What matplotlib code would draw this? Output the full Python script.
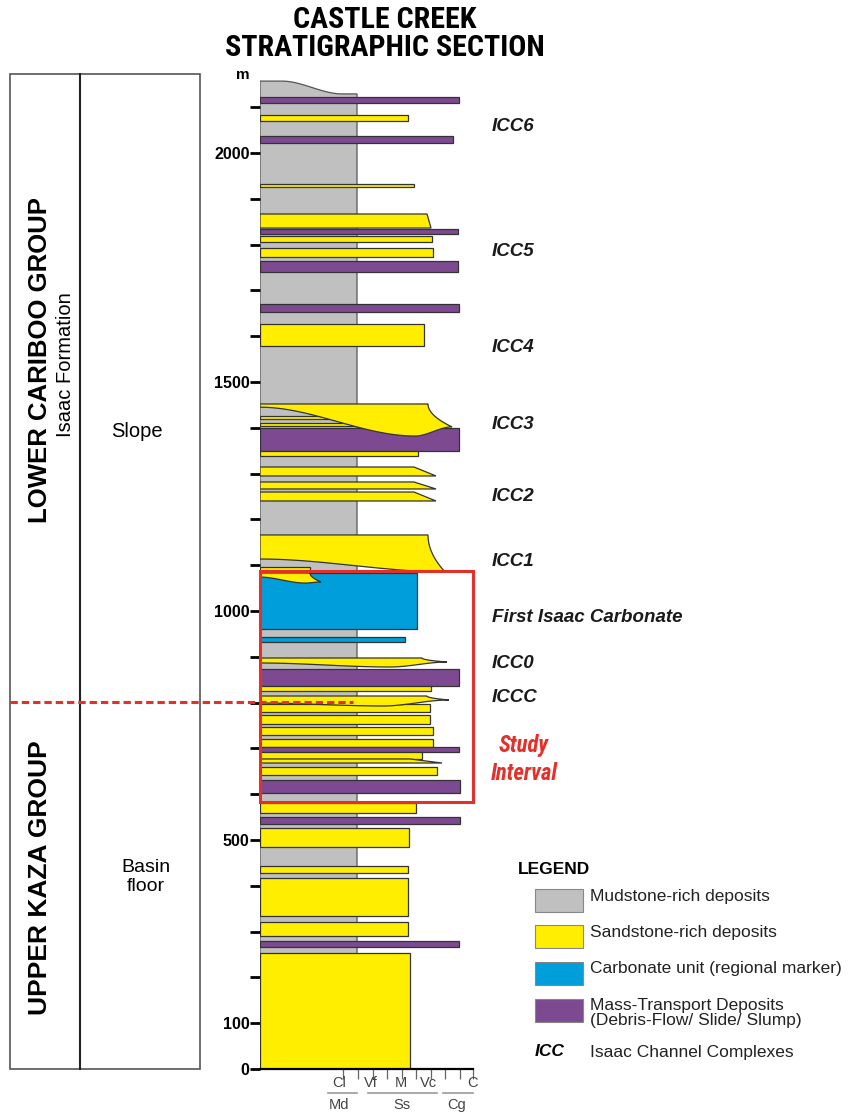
import numpy as np
import matplotlib
matplotlib.use("Agg")
import matplotlib.pyplot as plt
from matplotlib.patches import Rectangle, Polygon
from matplotlib import font_manager

installed = {f.name for f in font_manager.fontManager.ttflist}
SANS = 'Liberation Sans' if 'Liberation Sans' in installed else 'DejaVu Sans'
plt.rcParams['font.family'] = [SANS, 'DejaVu Sans']


def find_condensed():
    """Pick a narrow sans face for the headings, if one is installed."""
    prefs = ['Liberation Sans Narrow', 'Arial Narrow', 'Roboto Condensed',
             'Noto Sans', 'Open Sans Condensed', 'Open Sans', 'DejaVu Sans']
    narrow_stretch = ('condensed', 'semi-condensed', 'extra-condensed', 300, 400, 200)
    for name in prefs:
        for f in font_manager.fontManager.ttflist:
            if f.name != name:
                continue
            if 'Narrow' in name or 'Condensed' in name:
                return name, 'normal'
            if f.stretch in narrow_stretch:
                return name, f.stretch
    return SANS, 'normal'


NARROW, NARROW_STRETCH = find_condensed()

# ---------------------------------------------------------------- data
COLORS = {'mud': '#c0c0c0', 'sand': '#ffee00', 'carb': '#009fdb', 'mtd': '#7d4a91'}
RED = '#e3302a'

# mudstone background (grain-size extent and top outline, m)
MUD_GRAIN = 97
MUD_TOP_LEFT = 2157
MUD_TOP_RIGHT = 2129

# tabular beds: lithology, base (m), top (m), grain-size extent
BED_LITH = ['mtd', 'sand', 'mtd', 'sand', 'mtd', 'sand', 'sand', 'mtd', 'mtd', 'sand',
            'sand', 'sand', 'mtd', 'sand', 'sand', 'carb', 'carb', 'mtd', 'sand', 'sand',
            'sand', 'sand', 'sand', 'mtd', 'sand', 'sand', 'mtd', 'sand', 'mtd', 'sand',
            'sand', 'sand', 'sand', 'mtd', 'sand']
BED_BASE = [2109.2, 2069.9, 2021.8, 1925.8, 1823.1, 1805.7, 1773.0, 1740.2, 1652.8, 1578.6,
            1419.6, 1404.0, 1349.3, 1338.4, 1087.3, 960.7, 932.3, 836.2, 825.3, 779.5,
            753.3, 729.3, 703.0, 692.1, 676.9, 641.9, 602.6, 559.0, 535.0, 484.7,
            428.0, 334.0, 290.4, 266.4, 0.0]
BED_TOP = [2122.3, 2083.0, 2037.0, 1932.3, 1834.0, 1818.8, 1792.6, 1764.2, 1670.3, 1626.6,
           1426.2, 1410.5, 1399.6, 1349.3, 1096.0, 1083.0, 943.2, 873.4, 836.2, 797.0,
           773.0, 746.7, 720.5, 703.0, 692.1, 659.4, 631.0, 580.8, 550.2, 526.2,
           443.2, 417.0, 321.0, 279.5, 253.3]
BED_GRAIN = [199, 148, 193, 154, 198, 172, 173, 198, 199, 164,
             100, 130, 199, 158, 50, 157, 145, 199, 171, 170,
             170, 173, 173, 199, 162, 177, 200, 156, 200, 149,
             148, 148, 148, 199, 150]

# sandstone beds with a pointed (coarsening) lower-right edge
TAPER_BASE = [1836.2, 1294.8, 1266.4, 1240.2, 668.1]
TAPER_TOP = [1866.8, 1314.4, 1281.7, 1259.8, 676.9]
TAPER_GRAIN = [167, 154, 154, 154, 150]
TAPER_TIP = [171, 176, 176, 176, 182]

# lenticular channel bodies
LENS_TOP = [1452.0, 1166.0, 1083.0, 897.4, 814.4]
LENS_BASE_LEFT = [1445.0, 1113.5, 1074.0, 886.5, 799.0]
LENS_LOW = [1382.0, 1085.5, 1061.0, 877.7, 792.6]
LENS_LOW_GRAIN = [155, 185, 45, 130, 123]
LENS_GRAIN = [168, 168, 50, 162, 167]
LENS_TIP_GRAIN = [192, 185, 61, 187, 189]
LENS_TIP_LEVEL = [1402.0, 1085.5, 1063.5, 888.6, 805.7]

# scales
DEPTH_TICKS = list(range(0, 2200, 100))
DEPTH_LABELLED = [0, 100, 500, 1000, 1500, 2000]
GRAIN_TICKS = [83, 98, 112.5, 127, 141.5, 156, 170.5, 185, 199.5, 213]
GRAIN_LABELS = ['Cl', 'Vf', 'M', 'Vc', 'C']
GRAIN_LABEL_X = [79, 111, 141, 168, 212]
CLASS_LABELS = ['Md', 'Ss', 'Cg']
CLASS_SPANS = [(68, 97), (108, 177), (183, 213)]
CLASS_LABEL_X = [79, 142, 197]

# interpretation
ICC_NAMES = ['ICC6', 'ICC5', 'ICC4', 'ICC3', 'ICC2', 'ICC1',
             'First Isaac Carbonate', 'ICC0', 'ICCC']
ICC_LEVELS = [2057, 1784, 1576, 1408, 1249, 1109, 985, 886, 812]
STUDY_BASE, STUDY_TOP = 583.0, 1087.3
GROUP_BOUNDARY = 801.3
SECTION_TOP = 2172.5

LEGEND_KEYS = ['mud', 'sand', 'carb', 'mtd']
LEGEND_LABELS = ['Mudstone-rich deposits', 'Sandstone-rich deposits',
                 'Carbonate unit (regional marker)',
                 'Mass-Transport Deposits\n(Debris-Flow/ Slide/ Slump)']

# ---------------------------------------------------------------- figure
W, H = 854, 1114
PX_PER_M = 0.458
fig = plt.figure(figsize=(W / 100, H / 100), dpi=100)


def fx(px):
    return px / W


def fy(py):
    return 1 - py / H


def fit_width(texts, target_px):
    """Scale a group of texts so the widest one spans target_px pixels."""
    renderer = fig.canvas.get_renderer()
    widest = max(t.get_window_extent(renderer).width for t in texts)
    for t in texts:
        t.set_fontsize(t.get_fontsize() * target_px / widest)


ax = fig.add_axes([fx(260), fy(1069), 213 / W, 1000 / H])
ax.set_xlim(0, 213)
ax.set_ylim(0, 1000 / PX_PER_M)


def smooth(t):
    t = np.clip(t, 0, 1)
    return t * t * (3 - 2 * t)


EDGE = dict(edgecolor='#333333', linewidth=0.9)

# mudstone background column with its rounded top
xs = np.linspace(0, MUD_GRAIN, 40)
top_curve = MUD_TOP_LEFT + (MUD_TOP_RIGHT - MUD_TOP_LEFT) * smooth((xs - 22) / 60)
mud_pts = [(0, 0)] + list(zip(xs, top_curve)) + [(MUD_GRAIN, 0)]
ax.add_patch(Polygon(mud_pts, closed=True, facecolor=COLORS['mud'],
                     edgecolor='#555555', linewidth=0.9, zorder=1))

for lith, b, t, g in zip(BED_LITH, BED_BASE, BED_TOP, BED_GRAIN):
    ax.add_patch(Rectangle((0, b), g, t - b, facecolor=COLORS[lith], zorder=2, **EDGE))

for b, t, g, tip in zip(TAPER_BASE, TAPER_TOP, TAPER_GRAIN, TAPER_TIP):
    ax.add_patch(Polygon([(0, b), (0, t), (g, t), (tip, b)], closed=True,
                         facecolor=COLORS['sand'], zorder=3, **EDGE))

tt = np.linspace(0, 1, 40)
for top, bl, low, lx, g, tx, ty in zip(LENS_TOP, LENS_BASE_LEFT, LENS_LOW, LENS_LOW_GRAIN,
                                        LENS_GRAIN, LENS_TIP_GRAIN, LENS_TIP_LEVEL):
    pts = [(0, bl), (0, top), (g, top)]
    # outer flank bowing out to the tip
    pts += list(zip(g + (tx - g) * tt ** 2, top + (ty - top) * tt))[1:]
    # lower edge: tip -> deepest point -> left margin
    if lx < tx:
        pts += list(zip(tx + (lx - tx) * tt, ty + (low - ty) * smooth(tt)))[1:]
    pts += list(zip(lx * (1 - tt), low + (bl - low) * smooth(tt)))[1:]
    ax.add_patch(Polygon(pts, closed=True, facecolor=COLORS['sand'], zorder=4, **EDGE))

# study interval frame and group boundary
ax.add_patch(Rectangle((0, STUDY_BASE), 213, STUDY_TOP - STUDY_BASE, fill=False,
                       edgecolor=RED, linewidth=2.2, zorder=8, clip_on=False))
ax.plot([-250, 93], [GROUP_BOUNDARY, GROUP_BOUNDARY], color=RED, lw=2.2,
        dashes=(2.4, 1.3), zorder=9, clip_on=False, solid_capstyle='butt')

# axes styling
for s in ['left', 'top', 'right']:
    ax.spines[s].set_visible(False)
ax.spines['bottom'].set_linewidth(1.6)
ax.set_yticks(DEPTH_TICKS)
ax.set_yticklabels([str(t) if t in DEPTH_LABELLED else '' for t in DEPTH_TICKS],
                   fontweight='bold', fontsize=11.5)
ax.tick_params(axis='y', length=7, width=2, pad=0.5, direction='out')
ax.set_xticks(GRAIN_TICKS)
ax.set_xticklabels([])
ax.tick_params(axis='x', length=7, width=0.9, color='#666666', direction='out')
ax.text(-17, 2170, 'm', fontsize=11, fontweight='bold', ha='center', va='center',
        clip_on=False)

for lab, x in zip(GRAIN_LABELS, GRAIN_LABEL_X):
    ax.text(x, -31, lab, fontsize=10.5, color='#444444', ha='center', va='center',
            clip_on=False)
for lab, (x0, x1), x in zip(CLASS_LABELS, CLASS_SPANS, CLASS_LABEL_X):
    ax.plot([x0, x1], [-52, -52], color='#999999', lw=1.2, clip_on=False)
    ax.text(x, -79, lab, fontsize=10.5, color='#444444', ha='center', va='center',
            clip_on=False)

# complex labels
for name, lev in zip(ICC_NAMES, ICC_LEVELS):
    ax.text(232, lev, name, fontsize=13.5, fontweight='bold', style='italic',
            color='#1a1a1a', ha='left', va='center', clip_on=False)
study = [ax.text(264, 707, 'Study', fontsize=17, fontweight='bold', style='italic',
                 family=NARROW, fontstretch=NARROW_STRETCH, color=RED,
                 ha='center', va='center', clip_on=False),
         ax.text(264, 646, 'Interval', fontsize=17, fontweight='bold', style='italic',
                 family=NARROW, fontstretch=NARROW_STRETCH, color=RED,
                 ha='center', va='center', clip_on=False)]

# lithostratigraphic / environment panel
ax.add_patch(Rectangle((-250, 0), 190, SECTION_TOP, fill=False, edgecolor='#555555',
                       linewidth=1.2, clip_on=False))
ax.plot([-180, -180], [0, SECTION_TOP], color='#222222', lw=1.5, clip_on=False)
ax.text(-220, 1548, 'LOWER CARIBOO GROUP', rotation=90, fontsize=18.5,
        fontweight='bold', ha='center', va='center', clip_on=False)
ax.text(-194, 1537, 'Isaac Formation', rotation=90, fontsize=14.5,
        ha='center', va='center', clip_on=False)
ax.text(-123, 1391, 'Slope', fontsize=14.5, ha='center', va='center', clip_on=False)
ax.text(-220, 417, 'UPPER KAZA GROUP', rotation=90, fontsize=19,
        fontweight='bold', ha='center', va='center', clip_on=False)
ax.text(-114, 419, 'Basin\nfloor', fontsize=14, ha='center', va='center',
        linespacing=1.1, clip_on=False)

# title
title = [fig.text(fx(385), fy(20), 'CASTLE CREEK', fontsize=20, fontweight='bold',
                  family=NARROW, fontstretch=NARROW_STRETCH, ha='center', va='center'),
         fig.text(fx(385), fy(48), 'STRATIGRAPHIC SECTION', fontsize=20,
                  fontweight='bold', family=NARROW, fontstretch=NARROW_STRETCH,
                  ha='center', va='center')]

# legend
fig.text(fx(518), fy(870), 'LEGEND', fontsize=12.5, fontweight='bold',
         ha='left', va='center')
row_y = [900, 936, 973, 1010]
text_y = [897, 932, 969, 1013]
for key, lab, ry, ty in zip(LEGEND_KEYS, LEGEND_LABELS, row_y, text_y):
    fig.add_artist(Rectangle((fx(535), fy(ry + 11.5)), 48 / W, 23 / H,
                             transform=fig.transFigure, facecolor=COLORS[key],
                             edgecolor='#888888', linewidth=0.8))
    fig.text(fx(590), fy(ty), lab, fontsize=12.5, ha='left', va='center',
             linespacing=1.05, color='#222222')
fig.text(fx(535), fy(1052), 'ICC', fontsize=12.5, fontweight='bold', style='italic',
         ha='left', va='center')
fig.text(fx(590), fy(1052), 'Isaac Channel Complexes', fontsize=12.5, ha='left',
         va='center', color='#222222')

fit_width(title, 320)
fit_width(study, 67)

fig.savefig('out.png', dpi=100)
